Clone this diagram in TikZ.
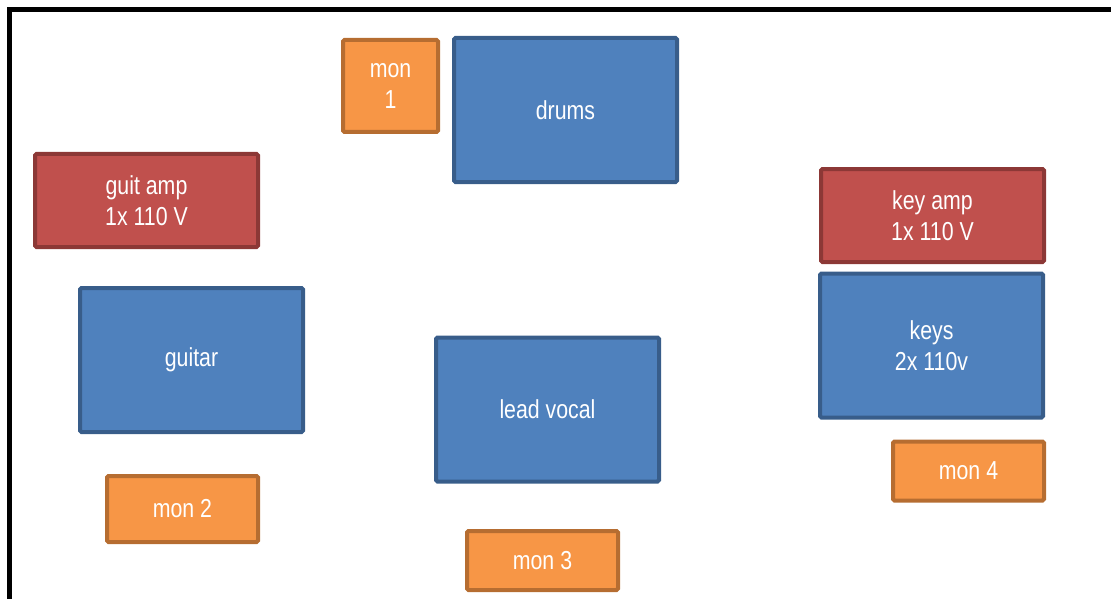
\documentclass[tikz,border=0pt]{standalone}
\usepackage{fontspec}
\setmainfont{Liberation Sans}[FakeStretch=0.82]
\usepackage{tikz}
\usetikzlibrary{positioning}
\definecolor{playerFill}{RGB}{79,129,189}
\definecolor{playerDraw}{RGB}{56,93,138}
\definecolor{ampFill}{RGB}{192,80,77}
\definecolor{ampDraw}{RGB}{140,56,54}
\definecolor{monFill}{RGB}{247,150,70}
\definecolor{monDraw}{RGB}{182,109,49}
\tikzset{
    stageBox/.style={
        ,   rectangle
        ,   rounded corners=1.5pt
        ,   line width=4pt
        ,   align=center
        ,   text=white
        ,   font={\fontsize{26pt}{31pt}\selectfont}
    },
    player/.style={
        ,   stageBox
        ,   draw=playerDraw
        ,   fill=playerFill
        ,   minimum width=223pt
        ,   minimum height=144pt
    },
    amp/.style={
        ,   stageBox
        ,   draw=ampDraw
        ,   fill=ampFill
        ,   minimum width=223pt
        ,   minimum height=93pt
    },
    monitor/.style={
        ,   stageBox
        ,   draw=monDraw
        ,   fill=monFill
        ,   minimum width=151pt
        ,   minimum height=59pt
    }
}
\begin{document}
\begin{tikzpicture}[x=1pt, y=-1pt]
\useasboundingbox (0,0) rectangle (1111,599);
\draw[line width=5pt] (1125,9.5) -- (9.5,9.5) -- (9.5,615); % stage edge

% band
\node[player] (drums) at (565.5,110) {drums};
\node[player] (guitar) at (191.5,360) {guitar};
\node[player] (vocal) at (547.5,409.5) {lead vocal};
\node[player] (keys) at (931.5,345.5) {keys\\2x 110v};

% amps
\node[amp] (guitAmp) at (146.5,200.5) {guit amp\\1x 110 V};
\node[amp] (keyAmp) at (932.5,215.5) {key amp\\1x 110 V};

% monitors
\node[monitor, minimum width=95pt, minimum height=92pt] (mon1) at (390.5,86) {mon\\1};
\node[monitor, minimum height=66pt] (mon2) at (182.5,509) {mon 2};
\node[monitor] (mon3) at (542.5,560.5) {mon 3};
\node[monitor] (mon4) at (968.5,471) {mon 4};
\end{tikzpicture}
\end{document}
